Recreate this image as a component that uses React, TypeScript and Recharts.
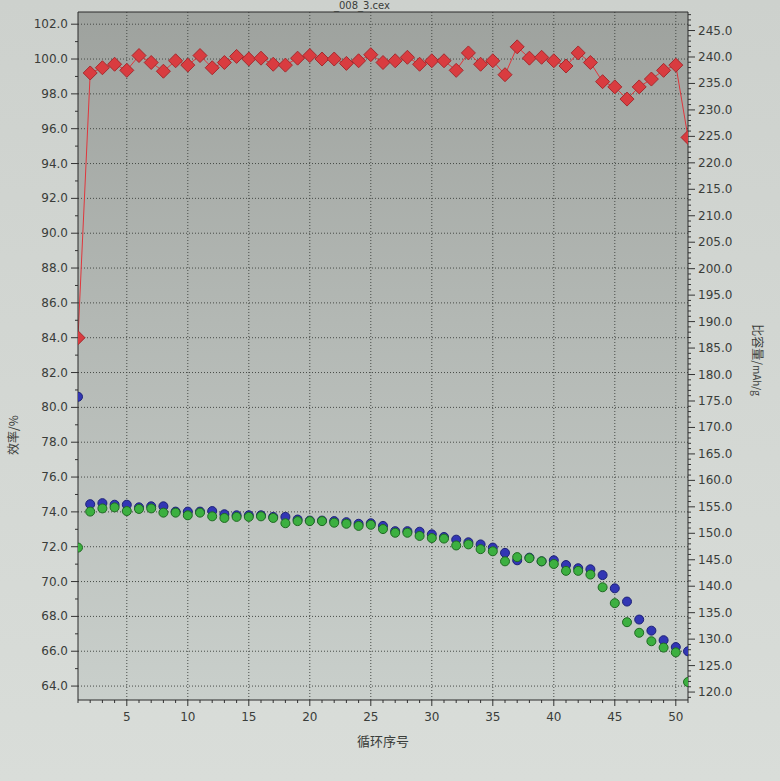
import { ComposedChart, Line, XAxis, YAxis, CartesianGrid, ReferenceLine } from 'recharts';

// cycle numbers 1..51
const cycles = Array.from({ length: 51 }, (_, i) => i + 1);

// coulombic efficiency, % (left axis)
const efficiency = [
  84.0, 99.2, 99.5, 99.7, 99.35, 100.2, 99.8, 99.3, 99.9, 99.65,
  100.2, 99.5, 99.8, 100.15, 100.0, 100.05, 99.7, 99.65, 100.05, 100.2,
  100.0, 100.0, 99.75, 99.9, 100.25, 99.8, 99.9, 100.1, 99.7, 99.9,
  99.9, 99.35, 100.35, 99.7, 99.9, 99.1, 100.7, 100.05, 100.1, 99.9,
  99.6, 100.35, 99.8, 98.7, 98.4, 97.7, 98.4, 98.85, 99.35, 99.65,
  95.5,
];

// charge specific capacity, mAh/g (right axis) - blue
const charge = [
  175.8, 155.5, 155.7, 155.4, 155.4, 154.9, 155.1, 155.1, 154.1, 154.1,
  154.1, 154.2, 153.6, 153.4, 153.4, 153.4, 153.1, 153.1, 152.6, 152.4,
  152.4, 152.3, 152.1, 151.8, 151.9, 151.4, 150.4, 150.4, 150.3, 149.8,
  149.3, 148.8, 148.3, 147.9, 147.3, 146.3, 144.9, 145.4, 144.7, 144.9,
  144.0, 143.4, 143.2, 142.1, 139.6, 137.1, 133.7, 131.6, 129.8, 128.5,
  127.7,
];

// discharge specific capacity, mAh/g (right axis) - green
const discharge = [
  147.3, 154.1, 154.7, 154.9, 154.2, 154.6, 154.7, 153.9, 153.9, 153.4,
  153.9, 153.2, 152.9, 153.1, 153.1, 153.2, 152.9, 151.9, 152.3, 152.3,
  152.3, 152.0, 151.8, 151.4, 151.6, 150.8, 150.1, 150.1, 149.5, 149.1,
  149.0, 147.7, 147.9, 147.0, 146.6, 144.7, 145.5, 145.3, 144.7, 144.2,
  142.9, 142.9, 142.2, 139.8, 136.8, 133.2, 131.2, 129.6, 128.4, 127.5,
  121.9,
];

const xMajor = [5, 10, 15, 20, 25, 30, 35, 40, 45, 50];
const leftMajor = [64, 66, 68, 70, 72, 74, 76, 78, 80, 82, 84, 86, 88, 90, 92, 94, 96, 98, 100, 102];

const leftMinor = Array.from({ length: 39 }, (_, i) => 64 + i);
const rightMinor = Array.from({ length: 130 }, (_, i) => 119 + i);

const LEFT_DOMAIN = [63.2, 102.7];
const RIGHT_DOMAIN = [118.5, 248.5];

const data = cycles.map((c, i) => ({
  cycle: c,
  eff: efficiency[i],
  chg: charge[i],
  dis: discharge[i],
}));

const txt = { fontFamily: 'DejaVu Sans, sans-serif', fontSize: 12, fill: '#3a3d3a' };

const BottomTick = (props: any) => {
  const { x, y, payload } = props;
  const major = payload.value % 5 === 0;
  const ay = y - 12;
  return (
    <g>
      <line x1={x} x2={x} y1={ay} y2={ay + (major ? 6 : 3)} stroke="#333" />
      {major && (
        <text x={x} y={y} dy={9} textAnchor="middle" {...txt}>
          {payload.value}
        </text>
      )}
    </g>
  );
};

const LeftTick = (props: any) => {
  const { x, y, payload } = props;
  const major = payload.value % 2 === 0;
  const ax = x + 10;
  return (
    <g>
      <line x1={ax} x2={ax - (major ? 7 : 3)} y1={y} y2={y} stroke="#333" />
      {major && (
        <text x={x} y={y} dy={4} textAnchor="end" {...txt}>
          {payload.value.toFixed(1)}
        </text>
      )}
    </g>
  );
};

const RightTick = (props: any) => {
  const { x, y, payload } = props;
  const major = payload.value % 5 === 0;
  const ax = x - 10;
  return (
    <g>
      <line x1={ax} x2={ax + (major ? 7 : 3)} y1={y} y2={y} stroke="#333" />
      {major && (
        <text x={x} y={y} dy={4} textAnchor="start" {...txt}>
          {payload.value.toFixed(1)}
        </text>
      )}
    </g>
  );
};

const Diamond = (props: any) => {
  const { cx, cy, index } = props;
  if (cx == null || cy == null) return <g key={index} />;
  const r = 7;
  return (
    <path
      key={index}
      d={`M${cx},${cy - r} L${cx + r},${cy} L${cx},${cy + r} L${cx - r},${cy} Z`}
      fill="#d93c40"
      stroke="#a52a2e"
      strokeWidth={1}
    />
  );
};

const BlueDot = (props: any) => {
  const { cx, cy, index } = props;
  if (cx == null || cy == null) return <g key={index} />;
  return <circle key={index} cx={cx} cy={cy} r={4.5} fill="#3236b4" stroke="#1e2278" strokeWidth={1} />;
};

const GreenDot = (props: any) => {
  const { cx, cy, index } = props;
  if (cx == null || cy == null) return <g key={index} />;
  return <circle key={index} cx={cx} cy={cy} r={4.5} fill="#3cb040" stroke="#1f6a22" strokeWidth={1} />;
};

const gridStroke = '#474b47';

export default function App() {
  return (
    <div
      style={{
        position: 'absolute',
        left: 0,
        top: 0,
        width: 780,
        height: 781,
        background: 'linear-gradient(180deg, #cdd1cd 0%, #d9ddd9 100%)',
        overflow: 'hidden',
      }}
    >
      <ComposedChart
        width={780}
        height={781}
        data={data}
        margin={{ top: 12, right: 0, bottom: 21, left: 0 }}
      >
        <defs>
          <linearGradient id="plotBg" x1="0" y1="0" x2="0" y2="1">
            <stop offset="0%" stopColor="#9ea29e" />
            <stop offset="45%" stopColor="#b3b8b4" />
            <stop offset="100%" stopColor="#c9cfcb" />
          </linearGradient>
        </defs>

        <CartesianGrid fill="url(#plotBg)" horizontal={false} vertical={false} />

        <XAxis
          dataKey="cycle"
          type="number"
          domain={[1, 51]}
          ticks={cycles}
          interval={0}
          allowDataOverflow
          tick={BottomTick}
          tickLine={false}
          tickSize={0}
          tickMargin={12}
          height={60}
          axisLine={{ stroke: '#2a2a2a' }}
          label={{
            value: '循环序号',
            position: 'insideBottom',
            offset: 14,
            style: { fontFamily: 'Noto Sans CJK SC, sans-serif', fontSize: 13, fill: '#3a3d3a' },
          }}
        />
        <YAxis
          yAxisId="left"
          orientation="left"
          domain={LEFT_DOMAIN}
          ticks={leftMinor}
          interval={0}
          allowDataOverflow
          tick={LeftTick}
          tickLine={false}
          tickSize={0}
          tickMargin={10}
          width={78}
          axisLine={{ stroke: '#2a2a2a' }}
        />
        <YAxis
          yAxisId="right"
          orientation="right"
          domain={RIGHT_DOMAIN}
          ticks={rightMinor}
          interval={0}
          allowDataOverflow
          tick={RightTick}
          tickLine={false}
          tickSize={0}
          tickMargin={10}
          width={92}
          axisLine={{ stroke: '#2a2a2a' }}
        />

        {leftMajor.map((v) => (
          <ReferenceLine
            key={`h${v}`}
            yAxisId="left"
            y={v}
            stroke={gridStroke}
            strokeDasharray="1 2"
          />
        ))}
        {xMajor.map((v) => (
          <ReferenceLine
            key={`v${v}`}
            yAxisId="left"
            x={v}
            stroke={gridStroke}
            strokeDasharray="1 2"
          />
        ))}
        <ReferenceLine yAxisId="left" y={LEFT_DOMAIN[1]} stroke="#2a2a2a" />

        <Line
          yAxisId="right"
          dataKey="chg"
          stroke="none"
          dot={BlueDot}
          activeDot={false}
          isAnimationActive={false}
        />
        <Line
          yAxisId="right"
          dataKey="dis"
          stroke="none"
          dot={GreenDot}
          activeDot={false}
          isAnimationActive={false}
        />
        <Line
          yAxisId="left"
          dataKey="eff"
          stroke="#e0363c"
          strokeWidth={1}
          dot={Diamond}
          activeDot={false}
          isAnimationActive={false}
        />
      </ComposedChart>

      <div
        style={{
          position: 'absolute',
          top: 0,
          left: 0,
          width: 724,
          textAlign: 'center',
          fontFamily: 'DejaVu Sans, sans-serif',
          fontSize: 10,
          lineHeight: '12px',
          color: '#3a3d3a',
        }}
      >
        _008_3.cex
      </div>

      <div
        style={{
          position: 'absolute',
          left: 12,
          top: 435,
          transform: 'translate(-50%, -50%) rotate(-90deg)',
          whiteSpace: 'nowrap',
          fontFamily: 'Noto Sans CJK SC, sans-serif',
          fontSize: 12,
          color: '#3a3d3a',
        }}
      >
        效率/%
      </div>
      <div
        style={{
          position: 'absolute',
          left: 758,
          top: 360,
          transform: 'translate(-50%, -50%) rotate(90deg)',
          whiteSpace: 'nowrap',
          fontFamily: 'Noto Sans CJK SC, sans-serif',
          fontSize: 12,
          color: '#3a3d3a',
        }}
      >
        比容量/<span style={{ fontSize: 10 }}>mAh/g</span>
      </div>
    </div>
  );
}
